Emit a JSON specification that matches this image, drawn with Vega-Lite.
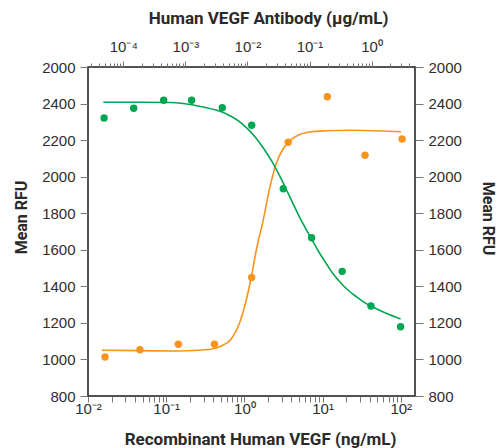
{
  "$schema": "https://vega.github.io/schema/vega-lite/v6.json",
  "width": 327,
  "height": 329,
  "autosize": "none",
  "padding": {"left": 88, "top": 67, "right": 83, "bottom": 52},
  "background": "white",
  "config": {
    "view": {"stroke": "#1a1a1a", "strokeWidth": 1.5},
    "font": "Liberation Sans",
    "axis": {
      "domain": false,
      "grid": false,
      "tickColor": "#777777",
      "tickWidth": 1,
      "labelColor": "#2e2e2e",
      "labelFont": "Liberation Sans",
      "labelFontSize": 15,
      "labelOverlap": false,
      "labelFlush": false,
      "titleFont": "Roboto",
      "titleFontWeight": "bold",
      "titleFontSize": 16,
      "titleColor": "#2a2a2a"
    }
  },
  "datasets": {
    "vegfPts": [
      {"vegf": 0.0165, "rfu": 1013},
      {"vegf": 0.0461, "rfu": 1053},
      {"vegf": 0.143, "rfu": 1083},
      {"vegf": 0.414, "rfu": 1083},
      {"vegf": 1.24, "rfu": 1449},
      {"vegf": 3.63, "rfu": 2188},
      {"vegf": 11.5, "rfu": 2437},
      {"vegf": 34.9, "rfu": 2117},
      {"vegf": 104, "rfu": 2206}
    ],
    "vegfFit": [
      {"vegf": 0.015, "rfu": 1050},
      {"vegf": 0.0448, "rfu": 1048},
      {"vegf": 0.146, "rfu": 1046},
      {"vegf": 0.354, "rfu": 1054},
      {"vegf": 0.505, "rfu": 1074},
      {"vegf": 0.679, "rfu": 1112},
      {"vegf": 0.886, "rfu": 1210},
      {"vegf": 1.058, "rfu": 1325},
      {"vegf": 1.226, "rfu": 1451},
      {"vegf": 1.464, "rfu": 1626},
      {"vegf": 1.697, "rfu": 1740},
      {"vegf": 2.15, "rfu": 1954},
      {"vegf": 2.568, "rfu": 2075},
      {"vegf": 3.065, "rfu": 2146},
      {"vegf": 3.66, "rfu": 2190},
      {"vegf": 4.637, "rfu": 2222},
      {"vegf": 6.81, "rfu": 2244},
      {"vegf": 11.26, "rfu": 2251},
      {"vegf": 22.2, "rfu": 2254},
      {"vegf": 59.0, "rfu": 2250},
      {"vegf": 100.5, "rfu": 2246}
    ],
    "abPts": [
      {"antibody": 0.000049, "rfu": 2321},
      {"antibody": 0.000147, "rfu": 2374},
      {"antibody": 0.000447, "rfu": 2418},
      {"antibody": 0.00126, "rfu": 2418},
      {"antibody": 0.00393, "rfu": 2377},
      {"antibody": 0.0117, "rfu": 2281},
      {"antibody": 0.0378, "rfu": 1934},
      {"antibody": 0.108, "rfu": 1666},
      {"antibody": 0.336, "rfu": 1482},
      {"antibody": 0.975, "rfu": 1292},
      {"antibody": 2.93, "rfu": 1179}
    ],
    "abFit": [
      {"antibody": 0.0000477, "rfu": 2407},
      {"antibody": 0.000186, "rfu": 2407},
      {"antibody": 0.000565, "rfu": 2406},
      {"antibody": 0.000986, "rfu": 2399},
      {"antibody": 0.00183, "rfu": 2383},
      {"antibody": 0.00434, "rfu": 2347},
      {"antibody": 0.00807, "rfu": 2292},
      {"antibody": 0.0132, "rfu": 2219},
      {"antibody": 0.0178, "rfu": 2160},
      {"antibody": 0.0245, "rfu": 2086},
      {"antibody": 0.0334, "rfu": 2001},
      {"antibody": 0.0449, "rfu": 1911},
      {"antibody": 0.0619, "rfu": 1812},
      {"antibody": 0.0813, "rfu": 1733},
      {"antibody": 0.108, "rfu": 1659},
      {"antibody": 0.1416, "rfu": 1588},
      {"antibody": 0.188, "rfu": 1522},
      {"antibody": 0.238, "rfu": 1470},
      {"antibody": 0.309, "rfu": 1424},
      {"antibody": 0.415, "rfu": 1380},
      {"antibody": 0.573, "rfu": 1342},
      {"antibody": 0.751, "rfu": 1314},
      {"antibody": 0.975, "rfu": 1292},
      {"antibody": 1.744, "rfu": 1251},
      {"antibody": 2.93, "rfu": 1221}
    ]
  },
  "layer": [
    {
      "encoding": {
        "x": {
          "field": "vegf",
          "type": "quantitative",
          "scale": {"type": "log", "domain": [0.01, 152], "nice": false},
          "axis": {
            "orient": "bottom",
            "title": "Recombinant Human VEGF (ng/mL)",
            "values": [0.01, 0.02, 0.03, 0.04, 0.05, 0.06, 0.07, 0.08, 0.09, 0.1, 0.2, 0.3, 0.4, 0.5, 0.6, 0.7, 0.8, 0.9, 1, 2, 3, 4, 5, 6, 7, 8, 9, 10, 20, 30, 40, 50, 60, 70, 80, 90, 100],
            "labelExpr": "abs(log(datum.value)/LN10 - round(log(datum.value)/LN10)) < 1e-6 ? '10' + ['⁻²','⁻¹','⁰','¹','²'][round(log(datum.value)/LN10)+2] : ''",
            "tickSize": 6,
            "labelPadding": -1,
            "titleFontSize": 17,
            "titleX": 172,
            "titleY": 43,
            "titleAnchor": "middle",
            "titleAlign": "center",
            "titleBaseline": "middle"
          }
        },
        "y": {
          "field": "rfu",
          "type": "quantitative",
          "scale": {"domain": [800, 2600], "nice": false, "zero": false},
          "axis": {
            "orient": "left",
            "title": "Mean RFU",
            "values": [800, 1000, 1200, 1400, 1600, 1800, 2000, 2200, 2400, 2600],
            "labelExpr": "datum.value == 2600 ? '2000' : datum.label",
            "format": "d",
            "tickSize": 8,
            "labelPadding": 5,
            "titleAngle": -90,
            "titleX": -67,
            "titleY": 150,
            "titleAlign": "center",
            "titleBaseline": "middle"
          }
        }
      },
      "layer": [
        {
          "data": {"name": "vegfFit"},
          "mark": {"type": "line", "color": "#F7941D", "strokeWidth": 1.6, "interpolate": "monotone"}
        },
        {
          "data": {"name": "vegfPts"},
          "mark": {"type": "circle", "color": "#F7941D", "opacity": 1, "size": 55}
        }
      ]
    },
    {
      "encoding": {
        "x": {
          "field": "antibody",
          "type": "quantitative",
          "scale": {"type": "log", "domain": [0.000027, 5], "nice": false},
          "axis": {
            "orient": "top",
            "title": "Human VEGF Antibody (µg/mL)",
            "values": [0.00003, 0.00004, 0.00005, 0.00006, 0.00007, 0.00008, 0.00009, 0.0001, 0.0002, 0.0003, 0.0004, 0.0005, 0.0006, 0.0007, 0.0008, 0.0009, 0.001, 0.002, 0.003, 0.004, 0.005, 0.006, 0.007, 0.008, 0.009, 0.01, 0.02, 0.03, 0.04, 0.05, 0.06, 0.07, 0.08, 0.09, 0.1, 0.2, 0.3, 0.4, 0.5, 0.6, 0.7, 0.8, 0.9, 1, 2, 3, 4],
            "labelExpr": "abs(log(datum.value)/LN10 - round(log(datum.value)/LN10)) < 1e-6 ? '10' + ['⁻⁴','⁻³','⁻²','⁻¹','⁰'][round(log(datum.value)/LN10)+4] : ''",
            "tickSize": {"condition": {"test": "abs(log(datum.value)/LN10 - round(log(datum.value)/LN10)) < 1e-6", "value": 6}, "value": 4},
            "labelPadding": 7,
            "titleFontSize": 17,
            "titleX": 180,
            "titleY": -49,
            "titleAnchor": "middle",
            "titleAlign": "center",
            "titleBaseline": "middle"
          }
        },
        "y": {
          "field": "rfu",
          "type": "quantitative",
          "scale": {"domain": [800, 2600], "nice": false, "zero": false},
          "axis": {
            "orient": "right",
            "title": "Mean RFU",
            "values": [800, 1000, 1200, 1400, 1600, 1800, 2000, 2200, 2400, 2600],
            "labelExpr": "datum.value == 2600 ? '2000' : datum.label",
            "format": "d",
            "tickSize": 8,
            "labelPadding": 5,
            "titleAngle": 90,
            "titleX": 72,
            "titleY": 151,
            "titleAlign": "center",
            "titleBaseline": "middle"
          }
        }
      },
      "layer": [
        {
          "data": {"name": "abFit"},
          "mark": {"type": "line", "color": "#00A651", "strokeWidth": 1.6, "interpolate": "monotone"}
        },
        {
          "data": {"name": "abPts"},
          "mark": {"type": "circle", "color": "#00A651", "opacity": 1, "size": 55}
        }
      ]
    }
  ],
  "resolve": {"scale": {"x": "independent"}, "axis": {"x": "independent", "y": "independent"}}
}
